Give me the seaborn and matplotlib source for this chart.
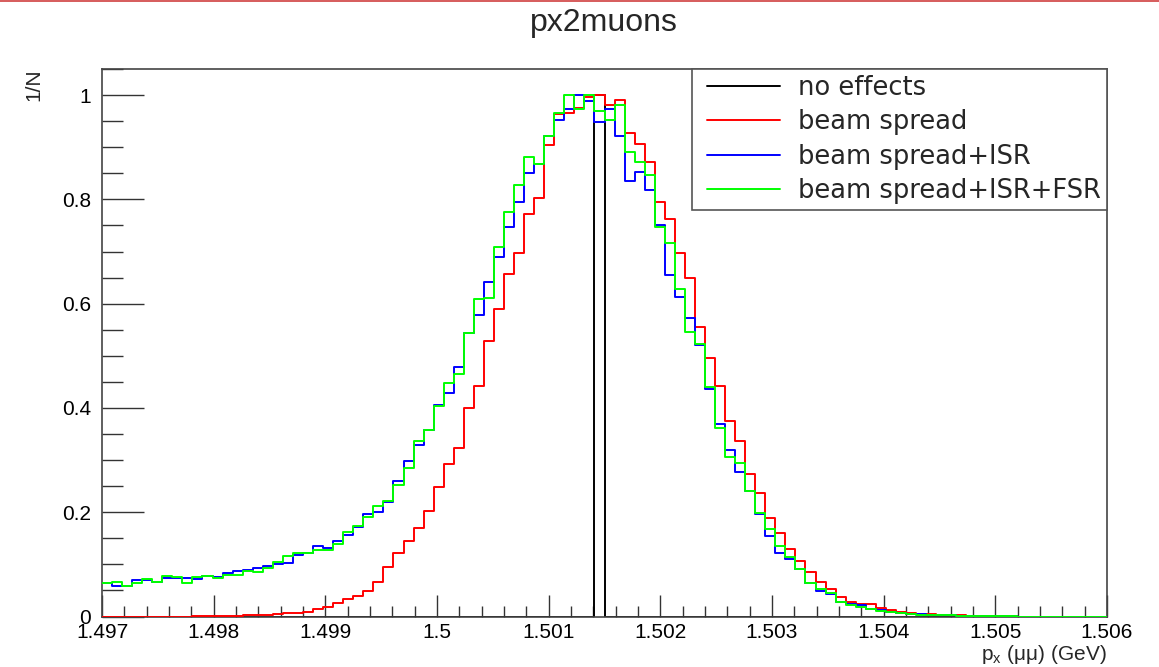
import numpy as np
import pandas as pd
import matplotlib
matplotlib.use("Agg")
import matplotlib.pyplot as plt
import seaborn as sns
from matplotlib.lines import Line2D
from matplotlib.legend_handler import HandlerLine2D
from matplotlib.ticker import MultipleLocator, FuncFormatter

# ---------------- data ----------------
x_min, x_max, n_bins = 1.497, 1.506, 100

no_effects = [0.0] * 100
no_effects[49] = 1.0

beam_spread = [
    0, 0, 0, 0, 0, 0, 0, 0, 0, 0.001,
    0.001, 0.001, 0.001, 0.001, 0.002, 0.002, 0.003, 0.004, 0.006, 0.007,
    0.009, 0.014, 0.019, 0.025, 0.033, 0.039, 0.049, 0.067, 0.094, 0.122,
    0.144, 0.169, 0.203, 0.249, 0.292, 0.323, 0.400, 0.442, 0.528, 0.589,
    0.657, 0.698, 0.771, 0.802, 0.904, 0.963, 0.965, 0.976, 0.997, 1.000,
    0.980, 0.990, 0.928, 0.907, 0.871, 0.795, 0.762, 0.698, 0.650, 0.556,
    0.496, 0.443, 0.374, 0.337, 0.273, 0.236, 0.188, 0.161, 0.129, 0.106,
    0.086, 0.067, 0.053, 0.038, 0.028, 0.024, 0.024, 0.016, 0.013, 0.009,
    0.007, 0.005, 0.004, 0.003, 0.002, 0.002, 0.001, 0.001, 0.001, 0.001,
    0.001, 0, 0, 0, 0, 0, 0, 0, 0, 0,
]

beam_isr = [
    0.065, 0.058, 0.058, 0.070, 0.070, 0.067, 0.074, 0.074, 0.073, 0.071,
    0.077, 0.076, 0.083, 0.088, 0.089, 0.093, 0.096, 0.100, 0.103, 0.118,
    0.121, 0.135, 0.131, 0.145, 0.156, 0.172, 0.196, 0.201, 0.220, 0.259,
    0.299, 0.329, 0.358, 0.405, 0.429, 0.478, 0.543, 0.578, 0.642, 0.690,
    0.747, 0.795, 0.850, 0.868, 0.922, 0.952, 0.973, 1.000, 0.988, 0.948,
    0.973, 0.922, 0.835, 0.852, 0.818, 0.751, 0.655, 0.613, 0.573, 0.521,
    0.436, 0.370, 0.319, 0.278, 0.241, 0.196, 0.154, 0.122, 0.111, 0.092,
    0.064, 0.049, 0.043, 0.028, 0.024, 0.022, 0.014, 0.012, 0.008, 0.006,
    0.005, 0.004, 0.003, 0.002, 0.002, 0.001, 0.001, 0.001, 0.001, 0.001,
    0.001, 0, 0, 0, 0, 0, 0, 0, 0, 0,
]

beam_isr_fsr = [
    0.064, 0.067, 0.058, 0.065, 0.071, 0.067, 0.077, 0.075, 0.065, 0.076,
    0.077, 0.074, 0.080, 0.079, 0.088, 0.086, 0.093, 0.104, 0.116, 0.121,
    0.122, 0.128, 0.128, 0.140, 0.163, 0.174, 0.190, 0.211, 0.222, 0.252,
    0.284, 0.337, 0.358, 0.404, 0.448, 0.465, 0.544, 0.609, 0.611, 0.709,
    0.776, 0.827, 0.882, 0.868, 0.922, 0.965, 1.000, 0.973, 1.000, 0.970,
    0.953, 0.981, 0.891, 0.871, 0.847, 0.747, 0.716, 0.629, 0.546, 0.523,
    0.441, 0.362, 0.306, 0.294, 0.241, 0.198, 0.167, 0.136, 0.115, 0.091,
    0.064, 0.053, 0.046, 0.027, 0.022, 0.018, 0.014, 0.011, 0.008, 0.006,
    0.004, 0.003, 0.003, 0.002, 0.002, 0.001, 0.001, 0.001, 0.001, 0.001,
    0.001, 0, 0, 0, 0, 0, 0, 0, 0, 0,
]

series_labels = ["no effects", "beam spread", "beam spread+ISR", "beam spread+ISR+FSR"]
series_colors = ["#000000", "#ff0000", "#0000ff", "#00ff00"]
x_ticks = [1.497, 1.498, 1.499, 1.5, 1.501, 1.502, 1.503, 1.504, 1.505, 1.506]

# ---------------- figure ----------------
sns.set_theme(style="white")
plt.rcParams["font.family"] = ["Liberation Sans", "DejaVu Sans"]

W, H = 1159, 667
fig = plt.figure(figsize=(W / 100, H / 100), dpi=100)
ax = fig.add_axes([102 / W, 1 - 616.5 / H, 1005 / W, (616.5 - 69) / H])

edges = list(np.linspace(x_min, x_max, n_bins + 1))
centers = [0.5 * (edges[i] + edges[i + 1]) for i in range(n_bins)]

frames = []
for lab, vals in zip(series_labels, [no_effects, beam_spread, beam_isr, beam_isr_fsr]):
    frames.append(pd.DataFrame({"px": centers, "w": vals, "series": lab}))
df = pd.concat(frames, ignore_index=True)

for z, (lab, col) in enumerate(zip(series_labels, series_colors)):
    sub = df[df["series"] == lab]
    sns.histplot(data=sub, x="px", weights="w", bins=edges, element="step",
                 fill=False, color=col, linewidth=1.4, ax=ax, zorder=2 + z)

ax.set_xlim(x_min, x_max)
ax.set_ylim(0, 1.05)
ax.set_xlabel("")
ax.set_ylabel("")

ax.set_xticks(x_ticks)
ax.xaxis.set_minor_locator(MultipleLocator(0.0002))
ax.yaxis.set_major_locator(MultipleLocator(0.2))
ax.yaxis.set_minor_locator(MultipleLocator(0.05))
fmt = FuncFormatter(lambda v, p: f"{v:g}")
ax.xaxis.set_major_formatter(fmt)
ax.yaxis.set_major_formatter(fmt)

ax.tick_params(axis="both", which="both", direction="in", colors="#333333",
               labelcolor="black", labelsize=15, width=1,
               bottom=True, left=True, top=False, right=False)
ax.tick_params(axis="x", which="major", length=16, pad=5)
ax.tick_params(axis="x", which="minor", length=8)
ax.tick_params(axis="y", which="major", length=30, pad=8)
ax.tick_params(axis="y", which="minor", length=15)

for sp in ax.spines.values():
    sp.set_visible(True)
    sp.set_color("#444444")
    sp.set_linewidth(1.2)

# legend
fs_leg = 18.5
handles = [Line2D([0], [0], color=c, lw=1.4) for c in series_colors]
hmap = {h: HandlerLine2D(xpad=0.35) for h in handles}
leg = ax.legend(handles, series_labels, loc="upper right",
                bbox_to_anchor=(1.0, 1.0), frameon=True, handler_map=hmap,
                fancybox=False, edgecolor="#555555", borderaxespad=0,
                handlelength=3.19, handletextpad=0.7, labelspacing=0.32,
                borderpad=0.24, prop={"family": "DejaVu Sans", "size": fs_leg})
leg.get_frame().set_linewidth(1.2)
leg.get_frame().set_alpha(1)
leg.set_zorder(20)

fig.text(604 / W, 1 - 23 / H, "px2muons", ha="center", va="center", fontsize=23)
fig.text(34 / W, 1 - 85 / H, "1/N", rotation=90, ha="center", va="center", fontsize=15)
fig.text(1107 / W, 1 - 666 / H, r"p$_{\mathregular{x}}$ (μμ) (GeV)", ha="right",
         va="bottom", fontsize=15)

# thin red line on top border
fig.add_artist(Line2D([0, 1], [1 - 0.5 / H, 1 - 0.5 / H], color="#d04040", lw=1.2,
                      transform=fig.transFigure))

fig.savefig("out.png", dpi=100)
